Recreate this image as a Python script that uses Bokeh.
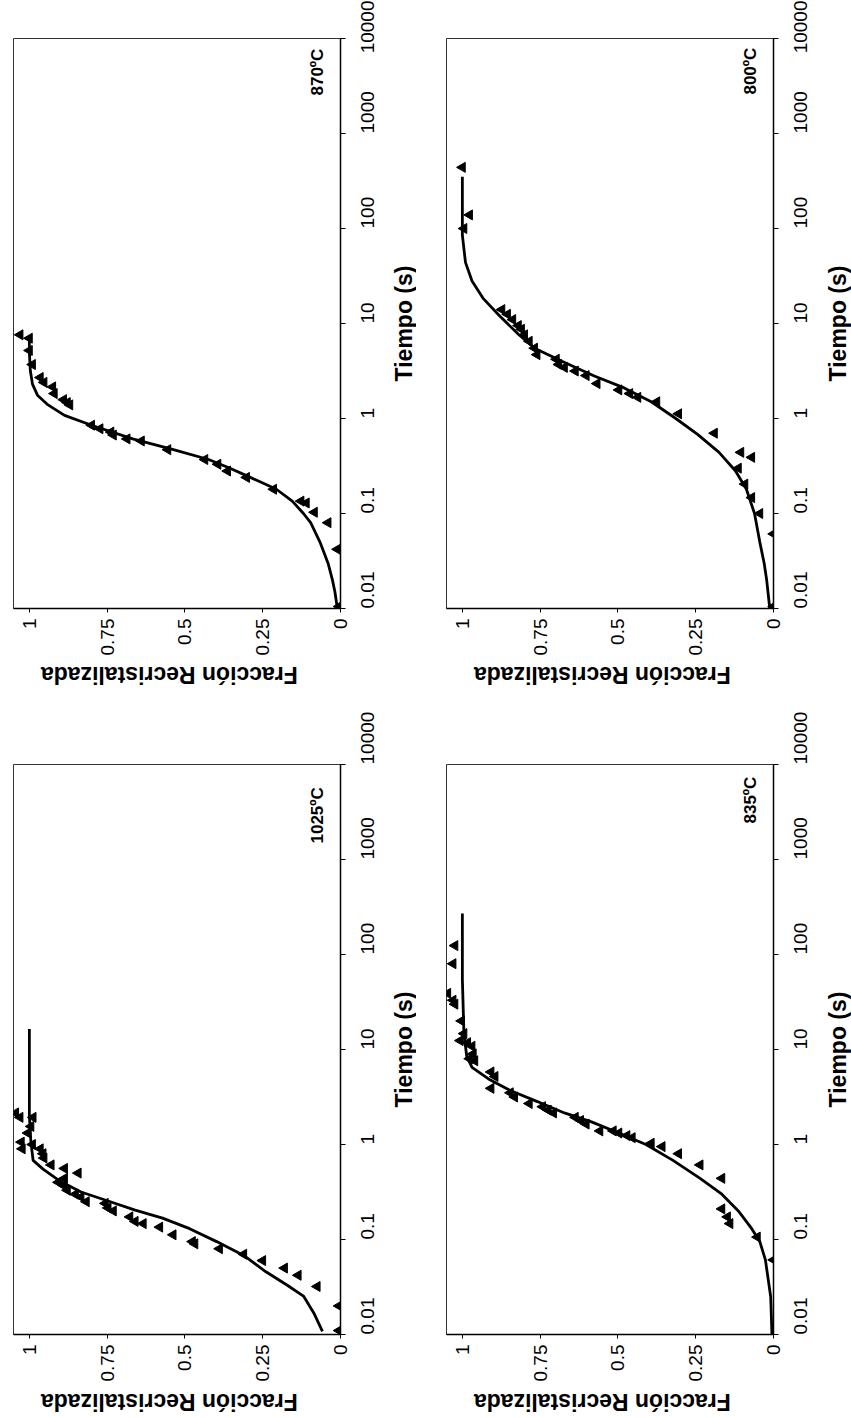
import math

from bokeh.embed import file_html
from bokeh.layouts import column, row
from bokeh.models import CustomJSTickFormatter, FixedTicker, Label, Range1d
from bokeh.plotting import figure
from bokeh.resources import INLINE

# ---- axis ticks -------------------------------------------------------------
time_ticks = [0.01, 0.1, 1, 10, 100, 1000, 10000]
time_tick_labels = ["0.01", "0.1", "1", "10", "100", "1000", "10000"]
frac_ticks = [0, 0.25, 0.5, 0.75, 1]
frac_tick_labels = ["0", "0.25", "0.5", "0.75", "1"]

x_label = "Fracción Recristalizada"
y_label = "Tiempo (s)"

# ---- 870 ºC ----------------------------------------------------------------
f870_exp = [1.03, 1.0, 1.0, 0.99, 0.965, 0.953, 0.925, 0.92, 0.89, 0.878, 0.87,
            0.80, 0.773, 0.738, 0.73, 0.686, 0.64, 0.555, 0.436, 0.394, 0.363,
            0.302, 0.215, 0.127, 0.11, 0.084, 0.04, 0.01, 0.005]
t870_exp = [7.6, 7.0, 5.2, 3.7, 2.7, 2.4, 2.15, 1.83, 1.58, 1.47, 1.39,
            0.85, 0.78, 0.72, 0.67, 0.61, 0.58, 0.47, 0.37, 0.33, 0.28,
            0.24, 0.18, 0.135, 0.129, 0.103, 0.080, 0.042, 0.0105]
f870_fit = [0.01, 0.018, 0.026, 0.04, 0.066, 0.096, 0.119, 0.155, 0.206, 0.29,
            0.355, 0.424, 0.537, 0.668, 0.80, 0.887, 0.94, 0.974, 0.99, 0.997,
            1.0, 1.0]
t870_fit = [0.01, 0.015, 0.02, 0.03, 0.05, 0.08, 0.1, 0.135, 0.18, 0.24,
            0.3, 0.37, 0.47, 0.61, 0.85, 1.08, 1.39, 1.76, 2.3, 3.2,
            5.0, 7.5]

# ---- 800 ºC ----------------------------------------------------------------
f800_exp = [1.0, 0.977, 0.995, 0.873, 0.855, 0.838, 0.82, 0.81, 0.80, 0.785,
            0.768, 0.76, 0.698, 0.69, 0.672, 0.637, 0.602, 0.567, 0.497, 0.462,
            0.436, 0.375, 0.305, 0.19, 0.105, 0.07, 0.113, 0.092, 0.07, 0.044,
            0.0, 0.0]
t800_exp = [440, 139, 100, 14, 12.5, 11, 9.5, 8.7, 7.6, 6.5,
            5.5, 4.7, 4.2, 3.7, 3.45, 3.16, 2.83, 2.33, 2.0, 1.83,
            1.67, 1.5, 1.12, 0.70, 0.44, 0.39, 0.30, 0.204, 0.147, 0.1,
            0.061, 0.0105]
f800_fit = [0.012, 0.022, 0.03, 0.044, 0.061, 0.087, 0.122, 0.175, 0.244, 0.314,
            0.393, 0.48, 0.576, 0.68, 0.768, 0.82, 0.88, 0.934, 0.969, 0.99,
            1.0, 1.0]
t800_fit = [0.01, 0.02, 0.03, 0.05, 0.1, 0.18, 0.28, 0.44, 0.68, 1.0,
            1.5, 2.1, 2.8, 4.0, 5.5, 7.7, 12, 18.5, 28, 44,
            85, 350]

# ---- 1025 ºC ---------------------------------------------------------------
f1025_exp = [1.044, 1.03, 0.988, 0.995, 1.005, 1.026, 1.023, 0.99, 0.965, 0.956,
             0.953, 0.93, 0.887, 0.843, 0.887, 0.89, 0.907, 0.878, 0.852, 0.834,
             0.817, 0.756, 0.747, 0.73, 0.677, 0.66, 0.634, 0.581, 0.538, 0.476,
             0.468, 0.389, 0.311, 0.25, 0.18, 0.136, 0.075, 0.005, 0.005]
t1025_exp = [2.15, 1.93, 1.93, 1.55, 1.32, 1.06, 0.9, 1.0, 0.9, 0.8,
             0.72, 0.61, 0.56, 0.5, 0.44, 0.37, 0.40, 0.33, 0.30, 0.28,
             0.25, 0.24, 0.215, 0.2, 0.173, 0.155, 0.147, 0.135, 0.112, 0.095,
             0.09, 0.080, 0.07, 0.06, 0.05, 0.042, 0.032, 0.02, 0.011]
f1025_fit = [0.058, 0.084, 0.119, 0.171, 0.241, 0.311, 0.398, 0.485, 0.572,
             0.66, 0.747, 0.834, 0.904, 0.956, 0.988, 0.995, 1.0, 1.0]
t1025_fit = [0.0108, 0.0164, 0.0254, 0.033, 0.046, 0.068, 0.095, 0.13, 0.168,
             0.204, 0.254, 0.316, 0.416, 0.55, 0.68, 1.06, 2.0, 16.4]

# ---- 835 ºC ----------------------------------------------------------------
f835_exp = [1.024, 1.03, 1.047, 1.03, 1.024, 1.003, 0.995, 1.007, 0.983, 0.969,
            0.965, 0.977, 0.96, 0.908, 0.895, 0.908, 0.846, 0.832, 0.785, 0.742,
            0.724, 0.707, 0.637, 0.62, 0.602, 0.558, 0.515, 0.497, 0.471, 0.454,
            0.393, 0.358, 0.305, 0.236, 0.166, 0.166, 0.148, 0.14, 0.052, 0.0]
t835_exp = [124, 80, 39, 33, 30, 20, 14.7, 12.4, 11.8, 10.8,
            9.0, 8.0, 7.6, 5.8, 5.2, 3.9, 3.5, 3.16, 2.7, 2.5,
            2.3, 2.15, 1.93, 1.79, 1.64, 1.39, 1.39, 1.32, 1.24, 1.18,
            1.03, 0.95, 0.80, 0.61, 0.44, 0.21, 0.173, 0.147, 0.106, 0.061]
f835_fit = [0.005, 0.009, 0.026, 0.044, 0.07, 0.113, 0.166, 0.236, 0.323, 0.41,
            0.497, 0.585, 0.672, 0.759, 0.846, 0.916, 0.969, 0.986, 0.995, 1.0,
            1.0]
t835_fit = [0.01, 0.025, 0.061, 0.095, 0.13, 0.2, 0.3, 0.44, 0.68, 1.0,
            1.32, 1.73, 2.15, 2.83, 3.7, 4.9, 6.5, 8.5, 14.7, 55,
            270]

FONT = "Liberation Sans"
FRAME_W, FRAME_H = 327, 570
BORDER_RIGHT, BORDER_BOTTOM = 50, 50
X_RANGE = (1.051, 0)
Y_RANGE = (0.01, 10000)


def tick_formatter(ticks, labels):
    return CustomJSTickFormatter(
        args=dict(vals=ticks, labs=labels),
        code="""
        for (let i = 0; i < vals.length; i++) {
            if (Math.abs(vals[i] - tick) <= 1e-9 * Math.max(1, Math.abs(vals[i])))
                return labs[i];
        }
        return "";
        """,
    )


def text_label(x, y, text, angle, size, align="center"):
    return Label(x=x, y=y, text=text, angle=angle,
                 text_align=align, text_baseline="middle",
                 text_font=FONT, text_font_size=size,
                 text_font_style="bold", text_color="black")


def blank(**kw):
    """A bare strip used to carry an axis title."""
    s = figure(output_backend="svg", toolbar_location=None,
               x_axis_location=None, y_axis_location=None,
               background_fill_color="white", border_fill_color="white",
               min_border=0, **kw)
    s.grid.visible = False
    s.outline_line_color = None
    return s


def panel(f_exp, t_exp, f_fit, t_fit, temp, temp_y, top, left, tiempo_w, fr_h):
    p = figure(
        frame_width=FRAME_W, frame_height=FRAME_H,
        min_border_top=top, min_border_bottom=BORDER_BOTTOM,
        min_border_left=left, min_border_right=BORDER_RIGHT,
        x_range=Range1d(*X_RANGE), y_range=Range1d(*Y_RANGE),
        y_axis_type="log", y_axis_location="right",
        output_backend="svg", toolbar_location=None,
        background_fill_color="white", border_fill_color="white",
    )
    p.grid.visible = False
    p.outline_line_color = "#333333"
    p.outline_line_width = 1

    # fraction axis (below)
    xa = p.xaxis[0]
    xa.ticker = FixedTicker(ticks=frac_ticks)
    xa.formatter = tick_formatter(frac_ticks, frac_tick_labels)
    xa.major_label_orientation = math.pi / 2

    # time axis (right)
    ya = p.yaxis[0]
    ya.ticker = FixedTicker(ticks=time_ticks)
    ya.formatter = tick_formatter(time_ticks, time_tick_labels)
    ya.major_label_orientation = math.pi / 2

    for ax in (xa, ya):
        ax.axis_line_color = "black"
        ax.axis_line_width = 1.5
        ax.major_tick_line_color = "black"
        ax.major_tick_in = 0
        ax.minor_tick_line_color = None
        ax.major_label_text_font = FONT
        ax.major_label_text_font_size = "19px"
        ax.major_label_text_color = "black"
    xa.major_tick_out = 4
    xa.major_label_standoff = 6
    ya.major_tick_out = 5
    ya.major_label_standoff = 22

    p.line(x=f_fit, y=t_fit, line_color="black", line_width=2.8)
    p.scatter(x=f_exp, y=t_exp, marker="triangle", size=10, angle=math.pi / 2,
              fill_color="black", line_color="black")

    # temperature tag in the upper corner
    p.add_layout(text_label(0.075, temp_y, temp, math.pi / 2, "17px", align="left"))

    # time axis title, in a strip to the right of the plot
    tiempo = blank(frame_width=tiempo_w, frame_height=FRAME_H,
                   min_border_top=top, min_border_bottom=BORDER_BOTTOM,
                   x_range=Range1d(0, 1), y_range=Range1d(*Y_RANGE),
                   y_axis_type="log")
    tiempo.add_layout(text_label(0.5, 10, y_label, math.pi / 2, "23px"))

    # fraction axis title, upside down under the plot
    fraccion = blank(frame_width=FRAME_W, frame_height=fr_h,
                     min_border_left=left,
                     x_range=Range1d(*X_RANGE), y_range=Range1d(0, 1))
    fraccion.add_layout(text_label(0.55, 0.5, x_label, math.pi, "23px"))

    return column(row(p, tiempo), fraccion)


# left column: frame 13..340, right column: frame 446..773
p870 = panel(f870_exp, t870_exp, f870_fit, t870_fit, "870ºC", 2512, 38, 13, 26, 32)
p800 = panel(f800_exp, t800_exp, f800_fit, t800_fit, "800ºC", 2570, 38, 30, 28, 32)
p1025 = panel(f1025_exp, t1025_exp, f1025_fit, t1025_fit, "1025ºC", 1473, 74, 13, 26, 34)
p835 = panel(f835_exp, t835_exp, f835_fit, t835_fit, "835ºC", 2393, 74, 30, 28, 34)

layout = column(row(p870, p800), row(p1025, p835))

open("out.html", "w").write(file_html(layout, INLINE))
